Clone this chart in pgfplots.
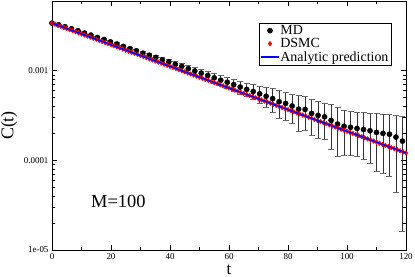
\documentclass[border=0pt]{standalone}
\usepackage{fontspec}
\setmainfont{Liberation Serif}
\usepackage{pgfplots}
\usepackage{pgfplotstable}
\pgfplotsset{compat=1.18}
\definecolor{lineblue}{RGB}{0,0,255}
\definecolor{dsmcred}{RGB}{255,0,0}

\pgfplotstableread{
t c e
0 3.40e-3 0.010e-3
2.2 3.26e-3 0.033e-3
4.4 3.10e-3 0.037e-3
6.6 2.94e-3 0.041e-3
8.8 2.80e-3 0.045e-3
11 2.63e-3 0.047e-3
13.2 2.50e-3 0.050e-3
15.4 2.35e-3 0.056e-3
17.6 2.23e-3 0.062e-3
19.8 2.10e-3 0.067e-3
22 1.99e-3 0.072e-3
24.2 1.87e-3 0.075e-3
26.4 1.76e-3 0.079e-3
28.6 1.67e-3 0.084e-3
30.8 1.57e-3 0.086e-3
33 1.49e-3 0.089e-3
35.2 1.41e-3 0.092e-3
37.4 1.32e-3 0.092e-3
39.6 1.26e-3 0.095e-3
41.8 1.18e-3 0.094e-3
44 1.12e-3 0.095e-3
46.2 1.054e-3 0.095e-3
48.4 0.992e-3 0.094e-3
50.6 0.941e-3 0.094e-3
52.8 0.886e-3 0.097e-3
55 0.833e-3 0.100e-3
57.2 0.784e-3 0.102e-3
59.4 0.744e-3 0.104e-3
61.6 0.700e-3 0.105e-3
63.8 0.658e-3 0.105e-3
66 0.619e-3 0.105e-3
68.2 0.587e-3 0.112e-3
70.4 0.553e-3 0.122e-3
72.6 0.520e-3 0.130e-3
74.8 0.489e-3 0.142e-3
77 0.451e-3 0.157e-3
79.2 0.432e-3 0.150e-3
81.4 0.404e-3 0.145e-3
83.6 0.373e-3 0.162e-3
85.8 0.370e-3 0.151e-3
88 0.334e-3 0.145e-3
90.2 0.318e-3 0.140e-3
92.4 0.306e-3 0.133e-3
94.6 0.279e-3 0.146e-3
96.8 0.254e-3 0.142e-3
99 0.240e-3 0.125e-3
101.2 0.234e-3 0.120e-3
103.4 0.227e-3 0.116e-3
105.6 0.221e-3 0.119e-3
107.8 0.214e-3 0.120e-3
110 0.205e-3 0.129e-3
112.2 0.200e-3 0.128e-3
114.4 0.196e-3 0.130e-3
116.6 0.182e-3 0.138e-3
118.8 0.164e-3 0.148e-3
}\mddata

\pgfplotstableread{
t c
0 3.400e-3
1 3.307e-3
2 3.216e-3
3 3.128e-3
4 3.042e-3
5 2.959e-3
6 2.878e-3
7 2.799e-3
8 2.722e-3
9 2.647e-3
10 2.575e-3
11 2.504e-3
12 2.436e-3
13 2.369e-3
14 2.304e-3
15 2.241e-3
16 2.179e-3
17 2.119e-3
18 2.061e-3
19 2.005e-3
20 1.950e-3
21 1.897e-3
22 1.844e-3
23 1.794e-3
24 1.745e-3
25 1.697e-3
26 1.650e-3
27 1.605e-3
28 1.561e-3
29 1.518e-3
30 1.477e-3
31 1.436e-3
32 1.397e-3
33 1.359e-3
34 1.321e-3
35 1.285e-3
36 1.250e-3
37 1.216e-3
38 1.182e-3
39 1.150e-3
40 1.118e-3
41 1.087e-3
42 1.058e-3
43 1.029e-3
44 1.001e-3
45 0.9735e-3
46 0.9466e-3
47 0.9207e-3
48 0.8954e-3
49 0.8709e-3
50 0.8470e-3
51 0.8238e-3
52 0.8012e-3
53 0.7792e-3
54 0.7579e-3
55 0.7371e-3
56 0.7169e-3
57 0.6973e-3
58 0.6781e-3
59 0.6595e-3
60 0.6415e-3
61 0.6239e-3
62 0.6068e-3
63 0.5902e-3
64 0.5740e-3
65 0.5583e-3
66 0.5429e-3
67 0.5280e-3
68 0.5136e-3
69 0.4995e-3
70 0.4858e-3
71 0.4725e-3
72 0.4595e-3
73 0.4469e-3
74 0.4347e-3
75 0.4228e-3
76 0.4112e-3
77 0.3999e-3
78 0.3889e-3
79 0.3782e-3
80 0.3679e-3
81 0.3578e-3
82 0.3480e-3
83 0.3385e-3
84 0.3292e-3
85 0.3202e-3
86 0.3114e-3
87 0.3029e-3
88 0.2946e-3
89 0.2865e-3
90 0.2786e-3
91 0.2710e-3
92 0.2636e-3
93 0.2564e-3
94 0.2493e-3
95 0.2425e-3
96 0.2358e-3
97 0.2293e-3
98 0.2231e-3
99 0.2170e-3
100 0.2110e-3
101 0.2052e-3
102 0.1996e-3
103 0.1941e-3
104 0.1888e-3
105 0.1836e-3
106 0.1786e-3
107 0.1737e-3
108 0.1689e-3
109 0.1643e-3
110 0.1598e-3
111 0.1554e-3
112 0.1512e-3
113 0.1470e-3
114 0.1430e-3
115 0.1391e-3
116 0.1353e-3
117 0.1316e-3
118 0.1279e-3
119 0.1244e-3
120 0.1210e-3
}\dsmcdata

\begin{document}
\begin{tikzpicture}
\begin{axis}[
  at={(0,0)}, anchor=south west,
  scale only axis, width=354bp, height=249bp,
  clip=false, clip marker paths=true,
  xmin=0, xmax=120,
  ymode=log, ymin=1e-5, ymax=6e-3,
  xtick={0,20,...,120}, minor xtick={10,30,...,110},
  ytick={1e-5,1e-4,1e-3}, yticklabels={1e-05,0.0001,0.001},
  tick align=inside,
  major tick length=5bp, minor tick length=3bp,
  every tick/.style={black, line width=0.6pt},
  axis line style={line width=0.8pt},
  tick label style={font=\fontsize{9}{9}\selectfont},
  /pgf/number format/assume math mode=true,
  xlabel={t}, ylabel={C(t)},
  label style={font=\fontsize{18}{18}\selectfont},
  xlabel style={font=\fontsize{17}{17}\selectfont, at={(axis description cs:0.5,-0.0976)}, anchor=base},
  ylabel style={at={(axis description cs:-0.121,0.5)}, anchor=center},
  legend style={at={(rel axis cs:0.96,0.912)}, anchor=north east,
    font=\fontsize{14}{14}\selectfont, inner xsep=2pt, inner ysep=1pt,
    nodes={inner sep=1.2pt}, row sep=0pt},
  legend cell align=left,
]
\addplot[only marks, mark=*, mark size=2.6bp, black,
  error bars/.cd, y dir=both, y explicit,
  error bar style={line width=0.5pt, black!80},
  error mark options={rotate=90, mark size=3bp, line width=0.5pt, black!60}]
  table[x=t, y=c, y error=e] {\mddata};
\addlegendentry{MD}
\addplot[only marks, mark=diamond*, mark size=2.4bp, color=dsmcred] table[x=t, y=c] {\dsmcdata};
\addlegendentry{DSMC}
\addplot[draw=lineblue, color=lineblue, line width=1.4pt, mark=none] coordinates {(0,3.4e-3) (120,1.21e-4)};
\addlegendentry{Analytic prediction}
\node[font=\fontsize{18.5}{18.5}\selectfont] at (axis cs:22.5,3.5e-5) {M=100};
\end{axis}
\pgfresetboundingbox
\useasboundingbox (-52bp,-27bp) rectangle (363bp,250bp);
\end{tikzpicture}
\end{document}
